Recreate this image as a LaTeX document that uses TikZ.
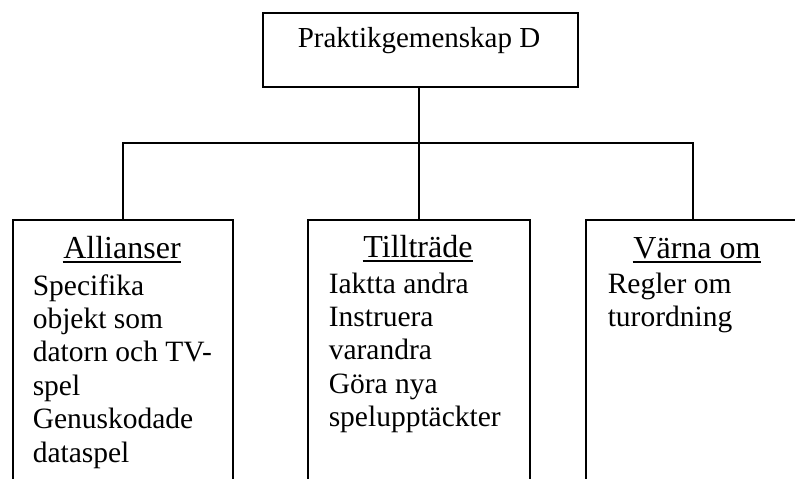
\documentclass[tikz,border=0pt]{standalone}
\usepackage{fontspec}
\setmainfont{Liberation Serif}
\begin{document}
\begin{tikzpicture}[x=1pt,y=-1pt, line width=1.5pt,
  box/.style={draw, rectangle, inner sep=0pt, anchor=north west},
  toptxt/.style={font=\fontsize{29}{33}\selectfont, inner sep=0pt, anchor=base},
  head/.style={font=\fontsize{32}{36}\selectfont, inner sep=0pt, anchor=base},
  body/.style={font=\fontsize{29.5}{33.4}\selectfont, inner sep=0pt, align=left, anchor=base west},
  uline/.style={line width=1.8pt}]
\useasboundingbox (0,0) rectangle (795,479);
\clip (0,0) rectangle (795,479);
% top box
\node[box, minimum width=315pt, minimum height=74pt] (top) at (262,12) {};
\node[toptxt] (toplabel) at (419,47) {Praktikgemenskap D};
% lower boxes (open at the bottom of the picture)
\node[box, minimum width=220pt, minimum height=300pt] (b1) at (12,219) {};
\node[box, minimum width=222pt, minimum height=300pt] (b2) at (307,219) {};
\node[box, minimum width=214pt, minimum height=300pt] (b3) at (585,219) {};
% connectors
\coordinate (bus) at (0,143);
\draw (b2.north) -- (b2.north |- top.south);
\draw (b1.north) -- (b1.north |- bus) -- (b3.north |- bus) -- (b3.north);
% headings
\node[head] (h1) at (122,258) {Allianser};
\node[head] (h2) at (418,257) {Tillträde};
\node[head] (h3) at (697,258) {Värna om};
\foreach \h in {h1,h2,h3}
  \draw[uline] ([yshift=-4pt]\h.base west) -- ([yshift=-4pt]\h.base east);
% body texts (anchor is the baseline of the last line)
\node[body] (t1) at (32,462) {Specifika\\objekt som\\datorn och TV-\\spel\\Genuskodade\\dataspel};
\node[body] (t2) at (328,426.6) {Iaktta andra\\Instruera\\varandra\\Göra nya\\spelupptäckter};
\node[body] (t3) at (607,326.4) {Regler om\\turordning};
\end{tikzpicture}
\end{document}
